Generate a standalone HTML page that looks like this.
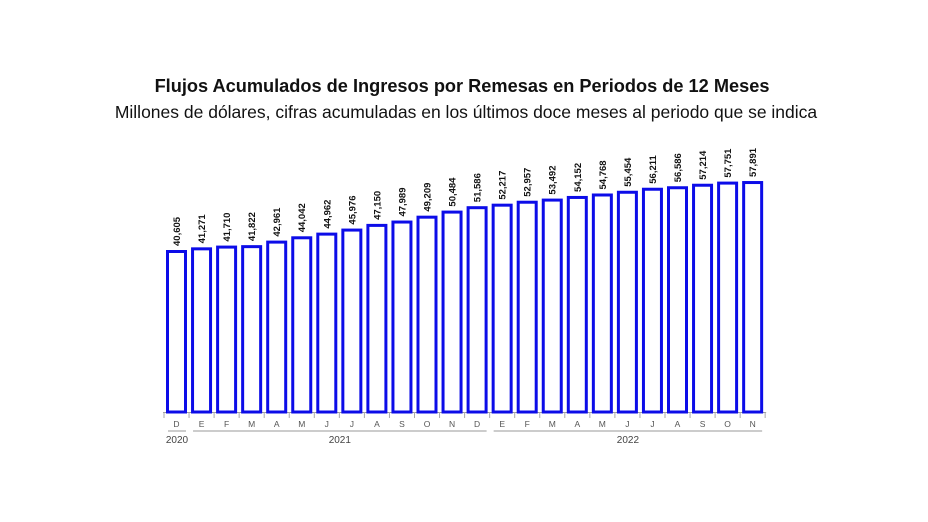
<!DOCTYPE html>
<html><head><meta charset="utf-8"><style>
body{margin:0;background:#fff;font-family:"Liberation Sans",sans-serif}
#wrap{position:relative;width:928px;height:522px;overflow:hidden}
.t{position:absolute;left:0;width:928px;text-align:center;color:#111;white-space:nowrap}
</style></head><body><div id="wrap">
<div class="t" style="top:76px;font-size:18.2px;font-weight:bold;left:-2px">Flujos Acumulados de Ingresos por Remesas en Periodos de 12 Meses</div>
<div class="t" style="top:102px;font-size:17.5px;left:2px">Millones de dólares, cifras acumuladas en los últimos doce meses al periodo que se indica</div>
<svg id="c" width="928" height="522" style="position:absolute;left:0;top:0"></svg>
</div>
<script>
const months=["D","E","F","M","A","M","J","J","A","S","O","N","D","E","F","M","A","M","J","J","A","S","O","N"];
const values=[40605,41271,41710,41822,42961,44042,44962,45976,47150,47989,49209,50484,51586,52217,52957,53492,54152,54768,55454,56211,56586,57214,57751,57891];
const years=[{label:"2020",from:0,to:0},{label:"2021",from:1,to:12},{label:"2022",from:13,to:23}];
const svg=document.getElementById('c');const NS="http://www.w3.org/2000/svg";
const base=412,pxPer=162/40605,x0=166,pitch=25.05,bw=21;
const xS=i=>x0+i*pitch;const yS=v=>base-v*pxPer;
function mk(t,a){const e=document.createElementNS(NS,t);for(const k in a)e.setAttribute(k,a[k]);svg.appendChild(e);return e;}
let ax=mk('line',{x1:x0-3,x2:xS(23)+bw+3,y1:base+0.5,y2:base+0.5,stroke:'#999','stroke-width':1});


values.forEach((v,i)=>{
 const x=xS(i),y=yS(v);
 const r=mk('rect',{x:x+1.5,y:y+1.5,width:bw-3,height:base-y-1.5,fill:'#fff',stroke:'#0c0ce8','stroke-width':3});
 
 
 const tx=x+bw/2+3.5,ty=y-4;
 const l=mk('text',{x:tx,y:ty,transform:`rotate(-90 ${tx} ${ty})`,'font-size':9.5,'font-weight':'bold',fill:'#111'});
 l.textContent=v.toLocaleString('en-US');
 
 
 const tk=mk('line',{x1:x-2,x2:x-2,y1:base,y2:base+6,stroke:'#aaa'});
 
 
 const m=mk('text',{x:x+bw/2,y:base+15,'font-size':8.5,fill:'#555','text-anchor':'middle'});
 m.textContent=months[i];
 
 
});
let tk2=mk('line',{x1:xS(23)+bw+2,x2:xS(23)+bw+2,y1:base,y2:base+6,stroke:'#aaa'});


years.forEach(y=>{
 const a=xS(y.from)+2,b=xS(y.to)+bw-1;
 const ln=mk('line',{x1:a,x2:b,y1:431,y2:431,stroke:'#999'});
 
 
 const t=mk('text',{x:(a+b)/2,y:443,'font-size':10,fill:'#444','text-anchor':'middle'});
 t.textContent=y.label;
 
 
});
</script></body></html>
